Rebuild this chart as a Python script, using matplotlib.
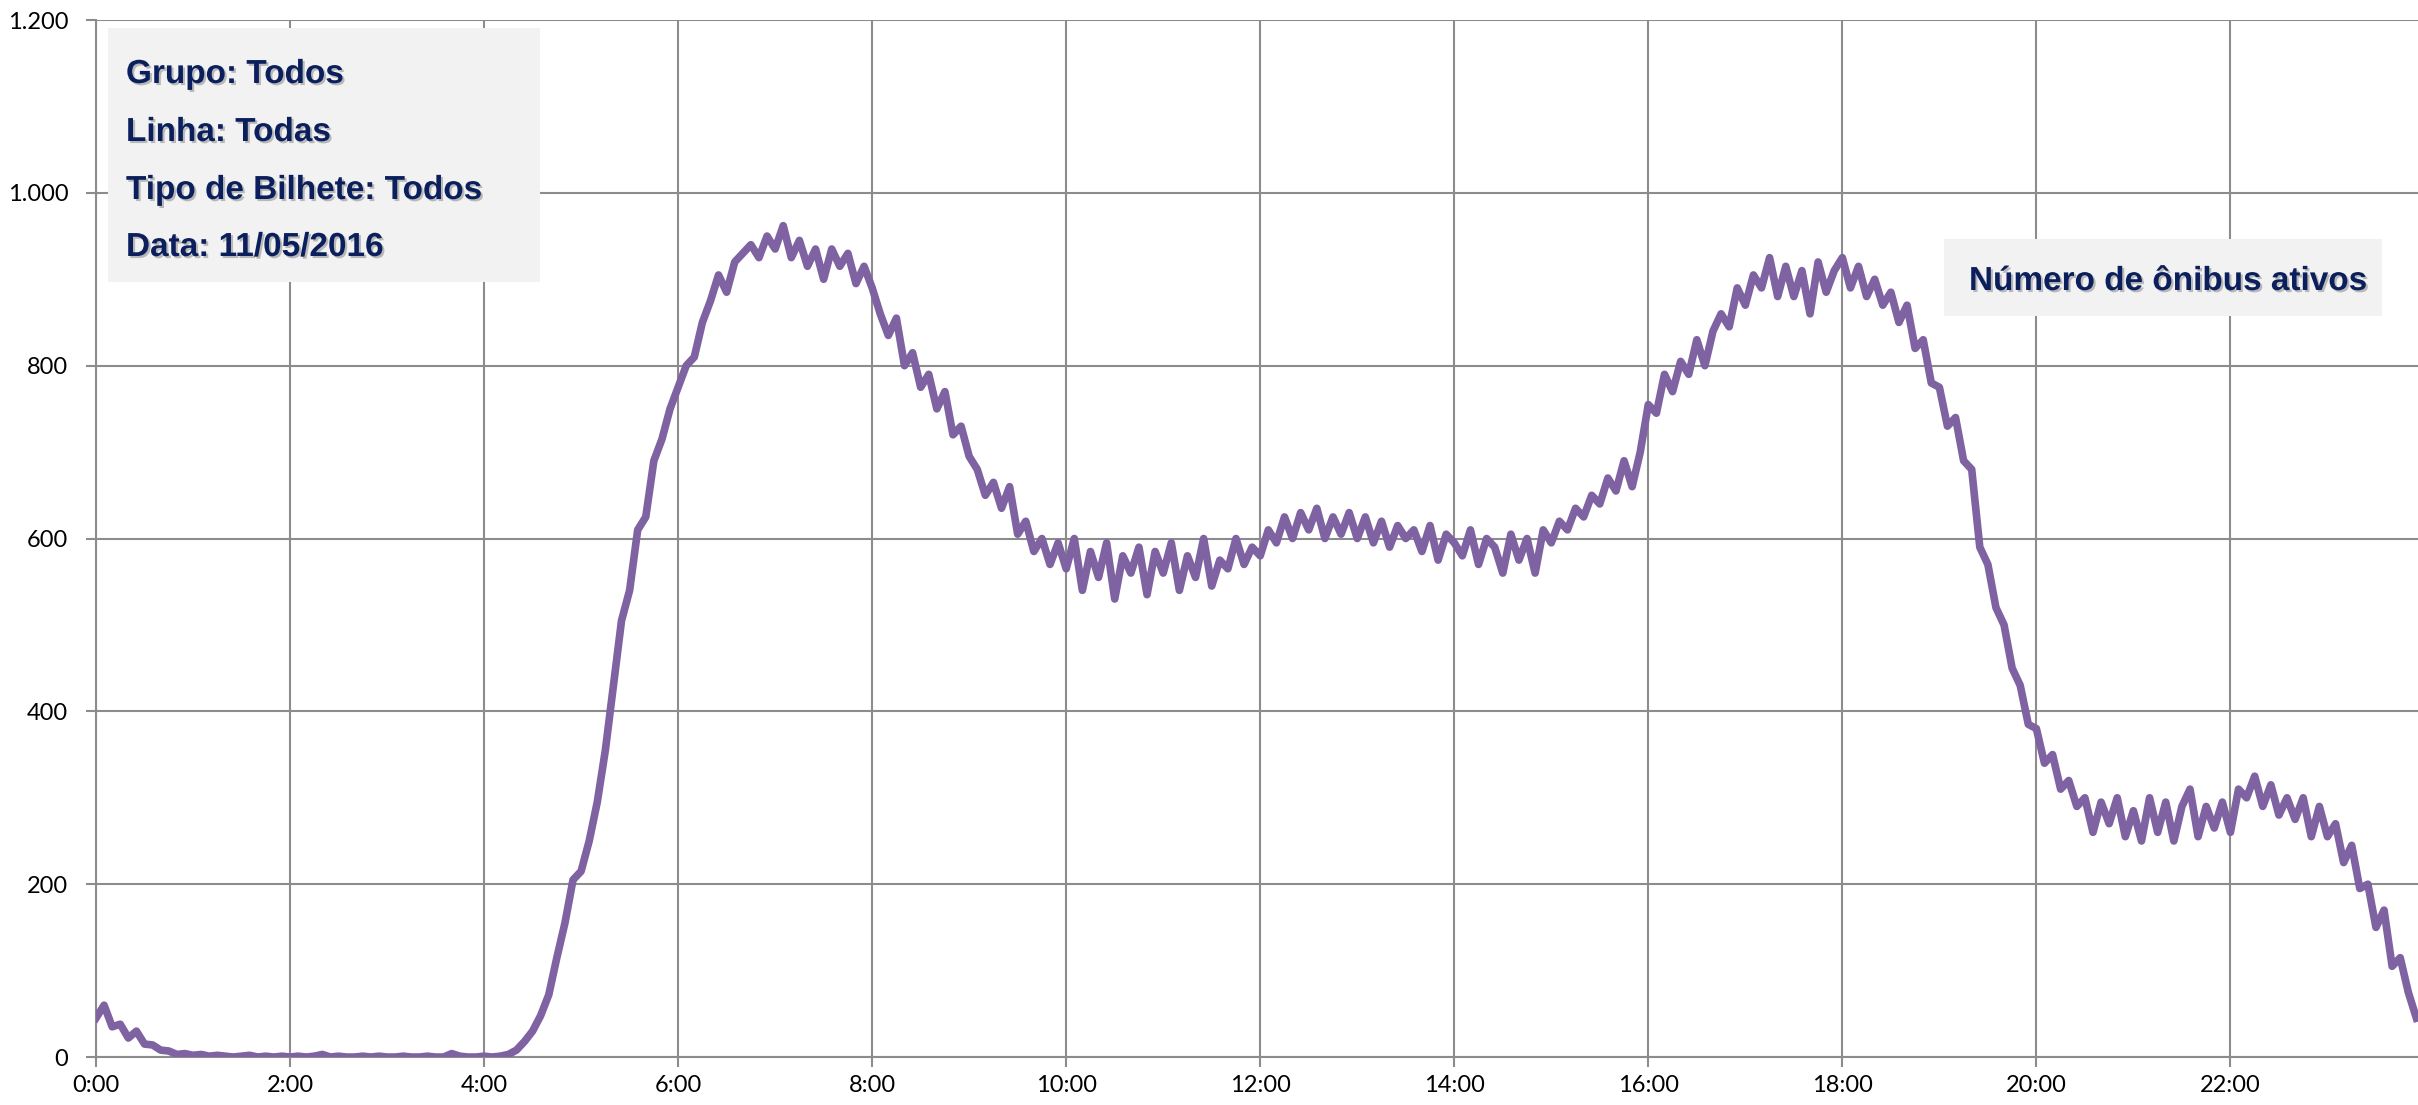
import numpy as np
import matplotlib
matplotlib.use('Agg')
import matplotlib.pyplot as plt
import matplotlib.patheffects as pe
from matplotlib.patches import Rectangle

# active buses, one value every 5 minutes (0:00 .. 23:55)
onibus_ativos = [
    45, 60, 35, 38, 22, 30, 15, 14, 8, 7, 3, 4,
    2, 3, 1, 2, 1, 0, 1, 2, 0, 1, 0, 1,
    0, 1, 0, 1, 3, 0, 1, 0, 0, 1, 0, 1,
    0, 0, 1, 0, 0, 1, 0, 0, 4, 1, 0, 0,
    1, 0, 1, 3, 8, 18, 30, 48, 72, 115, 155, 205,
    215, 250, 295, 355, 430, 505, 540, 610, 625, 690, 715, 750,
    775, 800, 810, 850, 875, 905, 885, 920, 930, 940, 925, 950,
    935, 962, 925, 945, 915, 935, 900, 935, 915, 930, 895, 915,
    890, 860, 835, 855, 800, 815, 775, 790, 750, 770, 720, 730,
    695, 680, 650, 665, 635, 660, 605, 620, 585, 600, 570, 595,
    565, 600, 540, 585, 555, 595, 530, 580, 560, 590, 535, 585,
    560, 595, 540, 580, 555, 600, 545, 575, 565, 600, 570, 590,
    580, 610, 595, 625, 600, 630, 610, 635, 600, 625, 605, 630,
    600, 625, 595, 620, 590, 615, 600, 610, 585, 615, 575, 605,
    595, 580, 610, 570, 600, 590, 560, 605, 575, 600, 560, 610,
    595, 620, 610, 635, 625, 650, 640, 670, 655, 690, 660, 700,
    755, 745, 790, 770, 805, 790, 830, 800, 840, 860, 845, 890,
    870, 905, 890, 925, 880, 915, 880, 910, 860, 920, 885, 910,
    925, 890, 915, 880, 900, 870, 885, 850, 870, 820, 830, 780,
    775, 730, 740, 690, 680, 590, 570, 520, 500, 450, 430, 385,
    380, 340, 350, 310, 320, 290, 300, 260, 295, 270, 300, 255,
    285, 250, 300, 260, 295, 250, 290, 310, 255, 290, 265, 295,
    260, 310, 300, 325, 290, 315, 280, 300, 275, 300, 255, 290,
    255, 270, 225, 245, 195, 200, 150, 170, 105, 115, 75, 45,
]
minutos = np.arange(0, 1440, 5)

x_ticks = np.arange(0, 1440, 120)
x_labels = ['%d:00' % (m // 60) for m in x_ticks]
y_ticks = [0, 200, 400, 600, 800, 1000, 1200]
y_labels = ['0', '200', '400', '600', '800', '1.000', '1.200']

info_lines = ['Grupo: Todos', 'Linha: Todas', 'Tipo de Bilhete: Todos', 'Data: 11/05/2016']
legend_text = 'Número de ônibus ativos'

line_color = '#7e62a1'
grid_color = '#8c8c8c'
text_color = '#0b1f5c'
box_color = '#f2f2f2'

fig = plt.figure(figsize=(24.18, 11.05), dpi=100)
ax = fig.add_axes([0.0397, 0.0434, 0.9603, 0.9385])

ax.plot(minutos, onibus_ativos, color=line_color, lw=5.5, solid_joinstyle='round', zorder=3)

ax.set_xlim(0, 1436)
ax.set_ylim(0, 1200)
ax.set_xticks(x_ticks)
ax.set_xticklabels(x_labels)
ax.set_yticks(y_ticks)
ax.set_yticklabels(y_labels)

ax.grid(True, color=grid_color, lw=1.5, zorder=1)
ax.set_axisbelow(True)
for side in ['top', 'right']:
    ax.spines[side].set_visible(False)
for side in ['left', 'bottom']:
    ax.spines[side].set_color(grid_color)
    ax.spines[side].set_linewidth(1.5)

ax.tick_params(axis='both', colors=grid_color, length=7, width=1.5, labelcolor='black')
ax.tick_params(axis='y', pad=13)
ax.tick_params(axis='x', pad=6)
for lab in ax.get_xticklabels() + ax.get_yticklabels():
    lab.set_fontfamily(['Lato', 'DejaVu Sans'])
    lab.set_fontsize(17)

shadow = [pe.withSimplePatchShadow(offset=(1.5, -1.5), shadow_rgbFace='#808080', alpha=0.5)]

# info box (top left)
fig.add_artist(Rectangle((0.0447, 0.7448), 0.1786, 0.2299, transform=fig.transFigure,
                         facecolor=box_color, edgecolor='none', zorder=5))
baselines = [83, 141, 199, 256]
for txt, b in zip(info_lines, baselines):
    fig.text(0.0521, 1 - b / 1105, txt, fontsize=24, fontweight='bold',
             family=['Liberation Sans', 'DejaVu Sans'], color=text_color,
             va='baseline', ha='left', zorder=6, path_effects=shadow)

# series label box (right)
fig.add_artist(Rectangle((0.804, 0.714), 0.181, 0.0697, transform=fig.transFigure,
                         facecolor=box_color, edgecolor='none', zorder=5))
fig.text(0.8143, 1 - 290 / 1105, legend_text, fontsize=24, fontweight='bold',
         family=['Liberation Sans', 'DejaVu Sans'], color=text_color,
         va='baseline', ha='left', zorder=6, path_effects=shadow)

plt.savefig('out.png', dpi=100)
